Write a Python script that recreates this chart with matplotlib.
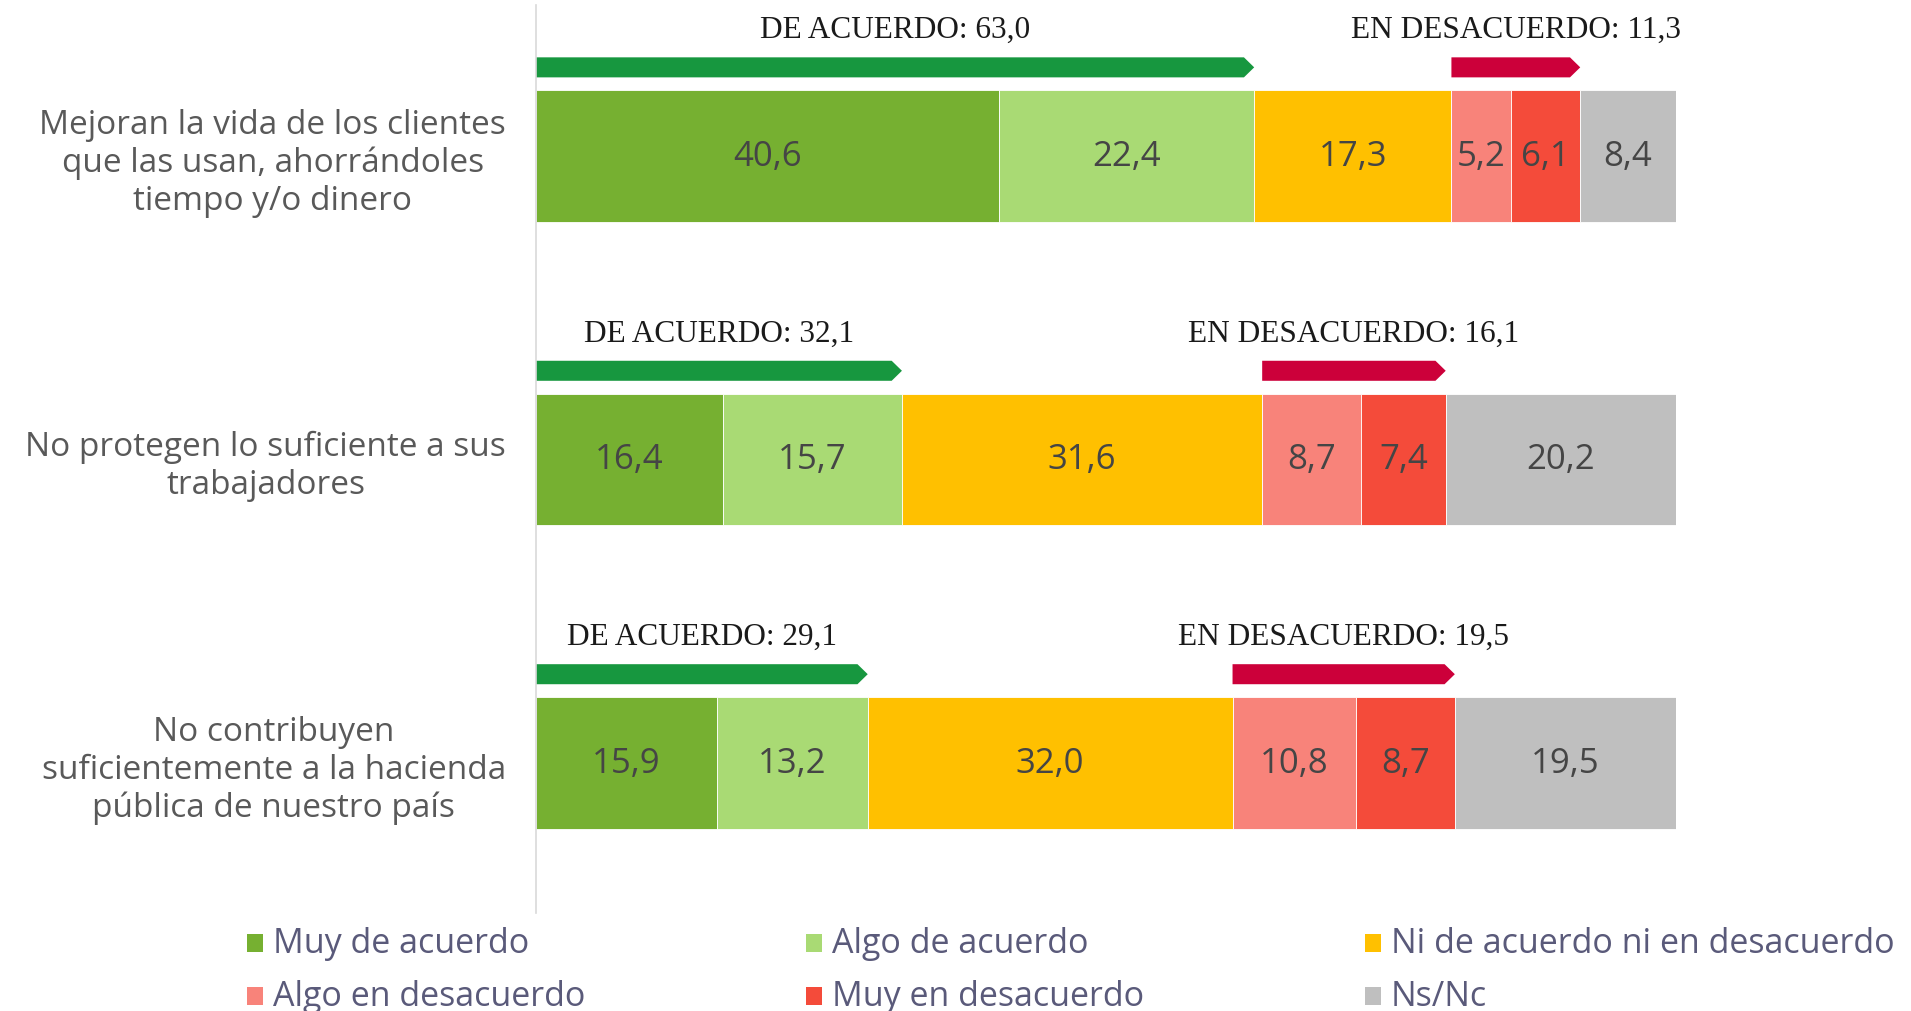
import matplotlib.pyplot as plt
from matplotlib.patches import FancyArrow, Rectangle

categorias = [
    "Mejoran la vida de los clientes\nque las usan, ahorrándoles\ntiempo y/o dinero",
    "No protegen lo suficiente a sus\ntrabajadores",
    "No contribuyen\nsuficientemente a la hacienda\npública de nuestro país",
]
series = ["Muy de acuerdo", "Algo de acuerdo", "Ni de acuerdo ni en desacuerdo",
          "Algo en desacuerdo", "Muy en desacuerdo", "Ns/Nc"]

muy_acuerdo = [40.6, 16.4, 15.9]
algo_acuerdo = [22.4, 15.7, 13.2]
ni_ni = [17.3, 31.6, 32.0]
algo_desacuerdo = [5.2, 8.7, 10.8]
muy_desacuerdo = [6.1, 7.4, 8.7]
ns_nc = [8.4, 20.2, 19.5]

total_acuerdo = [63.0, 32.1, 29.1]
total_desacuerdo = [11.3, 16.1, 19.5]

colores = ["#76B031", "#A9DA74", "#FFC000", "#F8837A", "#F44B3A", "#BFBFBF"]
verde_flecha = "#17973F"
rojo_flecha = "#CC003A"

valores = [muy_acuerdo, algo_acuerdo, ni_ni, algo_desacuerdo, muy_desacuerdo, ns_nc]


def coma(v):
    return f"{v:.1f}".replace(".", ",")


W, H = 1911, 1012
fig = plt.figure(figsize=(W / 100, H / 100), dpi=100)
ax = fig.add_axes([536 / W, 1 - 914 / H, 1140 / W, 908 / H])

filas = list(range(len(categorias)))
alto = 0.434
izq = [0.0] * len(filas)
for serie, vals, color in zip(series, valores, colores):
    barras = ax.barh(filas, vals, left=izq, height=alto, color=color,
                     edgecolor="white", linewidth=0.6, label=serie)
    ax.bar_label(barras, labels=[coma(v) for v in vals], label_type="center",
                 fontsize=25, color="#454545", family="Open Sans")
    izq = [a + b for a, b in zip(izq, vals)]

# flechas de totales
grosor = 0.066
for i in filas:
    y = i - alto / 2 - 0.075
    fin_acuerdo = total_acuerdo[i]
    ax.add_patch(FancyArrow(0, y, fin_acuerdo, 0, width=grosor, head_width=grosor,
                            head_length=0.9, length_includes_head=True,
                            color=verde_flecha, lw=0, clip_on=False))
    ax.text(fin_acuerdo / 2, y - 0.1, f"DE ACUERDO: {coma(fin_acuerdo)}",
            ha="center", va="baseline", fontsize=22.5, family="Liberation Serif",
            color="#1a1a1a")

    inicio = muy_acuerdo[i] + algo_acuerdo[i] + ni_ni[i]
    ax.add_patch(FancyArrow(inicio, y, total_desacuerdo[i], 0, width=grosor,
                            head_width=grosor, head_length=0.9,
                            length_includes_head=True, color=rojo_flecha, lw=0,
                            clip_on=False))
    ax.text(inicio + total_desacuerdo[i] / 2, y - 0.1,
            f"EN DESACUERDO: {coma(total_desacuerdo[i])}",
            ha="center", va="baseline", fontsize=22.5, family="Liberation Serif",
            color="#1a1a1a")

ax.set_xlim(0, 100)
ax.set_ylim(2.495, -0.4975)
ax.set_yticks(filas, categorias)
ax.set_xticks([])
ax.tick_params(axis="y", length=0, pad=21.6)
for lab in ax.get_yticklabels():
    lab.set_multialignment("center")
    lab.set_fontsize(24)
    lab.set_family("Open Sans")
    lab.set_color("#595959")
    lab.set_linespacing(1.2)
for s in ["top", "right", "bottom"]:
    ax.spines[s].set_visible(False)
ax.spines["left"].set_color("#d9d9d9")
ax.spines["left"].set_linewidth(1.2)

# leyenda manual en 2 filas x 3 columnas
for k, (serie, color) in enumerate(zip(series, colores)):
    col, fila = k % 3, k // 3
    x0 = 247 + col * 559
    top = 935 + fila * 53
    fig.add_artist(Rectangle((x0 / W, 1 - (top + 18) / H), 16 / W, 18 / H,
                             transform=fig.transFigure, color=color, lw=0))
    fig.text((x0 + 26) / W, 1 - (top + 18) / H, serie, ha="left", va="baseline",
             fontsize=24.5, family="Open Sans", color="#5a5a7a")

fig.savefig("out.png", dpi=100)
